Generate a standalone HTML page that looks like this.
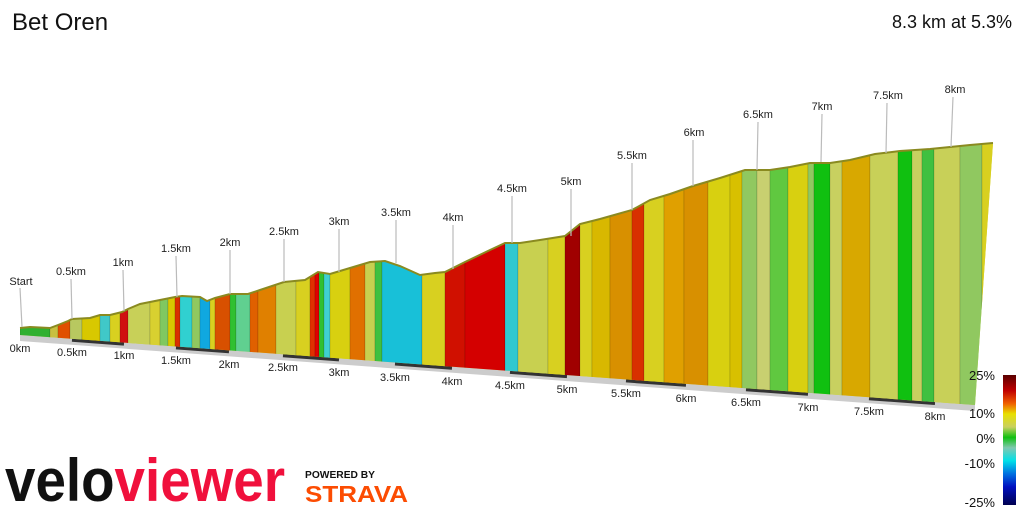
<!DOCTYPE html>
<html><head><meta charset="utf-8"><style>
body{margin:0;background:#fff;width:1024px;height:512px;overflow:hidden;font-family:"Liberation Sans",sans-serif}
</style></head><body>
<svg width="1024" height="512" viewBox="0 0 1024 512" xmlns="http://www.w3.org/2000/svg" font-family="Liberation Sans, sans-serif">
<defs>
<clipPath id="c"><polygon points="20,328 30,327 50,328 58,325 68,321 72,319 90,318 100,315 110,315 122,312 128,309 140,304 160,300 175,297 182,296 200,297 207,301 215,298 230,294 248,294 260,290 284,282 305,280 318,272 330,274 350,268 370,262 385,261 400,266 420,275 435,273 445,272 465,262 490,250 505,243 520,243 540,240 565,236 580,224 600,219 632,210 650,200 670,194 693,186 720,178 745,170 770,170 790,167 810,163 830,163 850,160 875,154 900,151 930,149 950,147 970,145 993,143 975,405 20,335"/></clipPath>
<linearGradient id="g" x1="0" y1="0" x2="0" y2="1">
<stop offset="0" stop-color="#5a0000"/><stop offset="0.12" stop-color="#c00000"/><stop offset="0.22" stop-color="#f06000"/><stop offset="0.3" stop-color="#e8e000"/><stop offset="0.4" stop-color="#c8d060"/><stop offset="0.48" stop-color="#10c010"/><stop offset="0.56" stop-color="#80c8b0"/><stop offset="0.66" stop-color="#00e0e8"/><stop offset="0.76" stop-color="#0070e0"/><stop offset="0.86" stop-color="#0010c0"/><stop offset="1" stop-color="#000050"/>
</linearGradient>
</defs>
<text x="12" y="30" font-size="24" fill="#111">Bet Oren</text>
<text x="1012" y="28" font-size="18" fill="#111" text-anchor="end">8.3 km at 5.3%</text>
<polygon points="20,334 975,404 975,411 20,341" fill="#ccc"/>
<g stroke="#333" stroke-width="4">
<line x1="72" y1="339.8" x2="124" y2="343.6"/><line x1="176" y1="347.4" x2="229" y2="351.3"/><line x1="283" y1="355.3" x2="339" y2="359.4"/><line x1="395" y1="363.5" x2="452" y2="367.7"/><line x1="510" y1="371.9" x2="567" y2="376.1"/><line x1="626" y1="380.4" x2="686" y2="384.8"/><line x1="746" y1="389.2" x2="808" y2="393.8"/><line x1="869" y1="398.2" x2="935" y2="403"/>
</g>
<g clip-path="url(#c)">
<rect x="0" y="100" width="1000" height="320" fill="#d8d030"/>
<g stroke="rgba(0,0,0,0.12)" stroke-width="1">
<rect x="20" y="100" width="30" height="320" fill="#30b030"/>
<rect x="50" y="100" width="8" height="320" fill="#c8c040"/>
<rect x="58" y="100" width="12" height="320" fill="#e05000"/>
<rect x="70" y="100" width="12" height="320" fill="#b8c860"/>
<rect x="82" y="100" width="18" height="320" fill="#d8c800"/>
<rect x="100" y="100" width="10" height="320" fill="#40c8c8"/>
<rect x="110" y="100" width="10" height="320" fill="#d8d020"/>
<rect x="120" y="100" width="8" height="320" fill="#d01010"/>
<rect x="128" y="100" width="22" height="320" fill="#c8d058"/>
<rect x="150" y="100" width="10" height="320" fill="#d8d030"/>
<rect x="160" y="100" width="8" height="320" fill="#80c860"/>
<rect x="168" y="100" width="7" height="320" fill="#d8c800"/>
<rect x="175" y="100" width="5" height="320" fill="#d83000"/>
<rect x="180" y="100" width="12" height="320" fill="#30d0d0"/>
<rect x="192" y="100" width="8" height="320" fill="#90c860"/>
<rect x="200" y="100" width="10" height="320" fill="#10a8e0"/>
<rect x="210" y="100" width="5" height="320" fill="#d8d020"/>
<rect x="215" y="100" width="15" height="320" fill="#d85000"/>
<rect x="230" y="100" width="6" height="320" fill="#30c030"/>
<rect x="236" y="100" width="14" height="320" fill="#60d090"/>
<rect x="250" y="100" width="8" height="320" fill="#e06000"/>
<rect x="258" y="100" width="18" height="320" fill="#e08000"/>
<rect x="276" y="100" width="20" height="320" fill="#c8d050"/>
<rect x="296" y="100" width="14" height="320" fill="#d8d020"/>
<rect x="310" y="100" width="5" height="320" fill="#e03000"/>
<rect x="315" y="100" width="4" height="320" fill="#e00000"/>
<rect x="319" y="100" width="5" height="320" fill="#30c030"/>
<rect x="324" y="100" width="6" height="320" fill="#40d0d0"/>
<rect x="330" y="100" width="20" height="320" fill="#d8d010"/>
<rect x="350" y="100" width="15" height="320" fill="#e07000"/>
<rect x="365" y="100" width="10" height="320" fill="#c8d050"/>
<rect x="375" y="100" width="7" height="320" fill="#40c040"/>
<rect x="382" y="100" width="40" height="320" fill="#18c0d8"/>
<rect x="422" y="100" width="23" height="320" fill="#d8d020"/>
<rect x="445" y="100" width="20" height="320" fill="#d01000"/>
<rect x="465" y="100" width="40" height="320" fill="#d40000"/>
<rect x="505" y="100" width="13" height="320" fill="#30c8d0"/>
<rect x="518" y="100" width="30" height="320" fill="#c8d050"/>
<rect x="548" y="100" width="17" height="320" fill="#d8d020"/>
<rect x="565" y="100" width="15" height="320" fill="#a00000"/>
<rect x="580" y="100" width="12" height="320" fill="#d8d020"/>
<rect x="592" y="100" width="18" height="320" fill="#d8b800"/>
<rect x="610" y="100" width="22" height="320" fill="#d89000"/>
<rect x="632" y="100" width="12" height="320" fill="#d83000"/>
<rect x="644" y="100" width="20" height="320" fill="#d8d020"/>
<rect x="664" y="100" width="20" height="320" fill="#e0a000"/>
<rect x="684" y="100" width="24" height="320" fill="#d89000"/>
<rect x="708" y="100" width="22" height="320" fill="#d8d010"/>
<rect x="730" y="100" width="12" height="320" fill="#d8c000"/>
<rect x="742" y="100" width="15" height="320" fill="#90c860"/>
<rect x="757" y="100" width="13" height="320" fill="#c8d070"/>
<rect x="770" y="100" width="18" height="320" fill="#60c840"/>
<rect x="788" y="100" width="20" height="320" fill="#d8d010"/>
<rect x="808" y="100" width="6" height="320" fill="#90c860"/>
<rect x="814" y="100" width="16" height="320" fill="#10c010"/>
<rect x="830" y="100" width="12" height="320" fill="#c8d060"/>
<rect x="842" y="100" width="28" height="320" fill="#d8a800"/>
<rect x="870" y="100" width="28" height="320" fill="#c8d058"/>
<rect x="898" y="100" width="14" height="320" fill="#10c010"/>
<rect x="912" y="100" width="10" height="320" fill="#c8d060"/>
<rect x="922" y="100" width="12" height="320" fill="#40c040"/>
<rect x="934" y="100" width="26" height="320" fill="#c8d058"/>
<rect x="960" y="100" width="22" height="320" fill="#90c860"/>
<rect x="982" y="100" width="15" height="320" fill="#d8d020"/>
</g>
</g>
<polyline fill="none" stroke="#8a8a20" stroke-width="2" points="20,328 30,327 50,328 58,325 68,321 72,319 90,318 100,315 110,315 122,312 128,309 140,304 160,300 175,297 182,296 200,297 207,301 215,298 230,294 248,294 260,290 284,282 305,280 318,272 330,274 350,268 370,262 385,261 400,266 420,275 435,273 445,272 465,262 490,250 505,243 520,243 540,240 565,236 580,224 600,219 632,210 650,200 670,194 693,186 720,178 745,170 770,170 790,167 810,163 830,163 850,160 875,154 900,151 930,149 950,147 970,145 993,143"/>
<g stroke="#bbb" stroke-width="1.2">
<line x1="20" y1="288" x2="22" y2="327"/><line x1="71" y1="279" x2="72" y2="319"/><line x1="123" y1="270" x2="124" y2="311"/><line x1="176" y1="256" x2="177" y2="297"/><line x1="230" y1="250" x2="230" y2="294"/><line x1="284" y1="239" x2="284" y2="282"/><line x1="339" y1="229" x2="339" y2="272"/><line x1="396" y1="220" x2="396" y2="263"/><line x1="453" y1="225" x2="453" y2="269"/><line x1="512" y1="196" x2="512" y2="243"/><line x1="571" y1="189" x2="571" y2="236"/><line x1="632" y1="163" x2="632" y2="210"/><line x1="693" y1="140" x2="693" y2="186"/><line x1="758" y1="122" x2="757" y2="170"/><line x1="822" y1="114" x2="821" y2="162"/><line x1="887" y1="103" x2="886" y2="153"/><line x1="953" y1="97" x2="951" y2="147"/>
</g>
<g font-size="11" fill="#222" text-anchor="middle">
<text x="21" y="285">Start</text><text x="71" y="275">0.5km</text><text x="123" y="266">1km</text><text x="176" y="252">1.5km</text><text x="230" y="246">2km</text><text x="284" y="235">2.5km</text><text x="339" y="225">3km</text><text x="396" y="216">3.5km</text><text x="453" y="221">4km</text><text x="512" y="192">4.5km</text><text x="571" y="185">5km</text><text x="632" y="159">5.5km</text><text x="694" y="136">6km</text><text x="758" y="118">6.5km</text><text x="822" y="110">7km</text><text x="888" y="99">7.5km</text><text x="955" y="93">8km</text>
<text x="20" y="352">0km</text><text x="72" y="356">0.5km</text><text x="124" y="359">1km</text><text x="176" y="364">1.5km</text><text x="229" y="368">2km</text><text x="283" y="371">2.5km</text><text x="339" y="376">3km</text><text x="395" y="381">3.5km</text><text x="452" y="385">4km</text><text x="510" y="389">4.5km</text><text x="567" y="393">5km</text><text x="626" y="397">5.5km</text><text x="686" y="402">6km</text><text x="746" y="406">6.5km</text><text x="808" y="411">7km</text><text x="869" y="415">7.5km</text><text x="935" y="420">8km</text>
</g>
<rect x="1003" y="375" width="13" height="130" fill="url(#g)"/>
<g font-size="13" fill="#111" text-anchor="end">
<text x="995" y="380">25%</text><text x="995" y="418">10%</text><text x="995" y="443">0%</text><text x="995" y="468">-10%</text><text x="995" y="507">-25%</text>
</g>
<text x="5" y="501" font-size="60" font-weight="bold" textLength="280" lengthAdjust="spacingAndGlyphs" fill="#111">velo<tspan fill="#f0103c">viewer</tspan></text>
<text x="305" y="478" font-size="10" font-weight="bold" textLength="70" lengthAdjust="spacingAndGlyphs" fill="#111">POWERED BY</text>
<text x="305" y="502" font-size="23" font-weight="bold" textLength="103" lengthAdjust="spacingAndGlyphs" fill="#fc4c02">STRAVA</text>
</svg>
</body></html>
